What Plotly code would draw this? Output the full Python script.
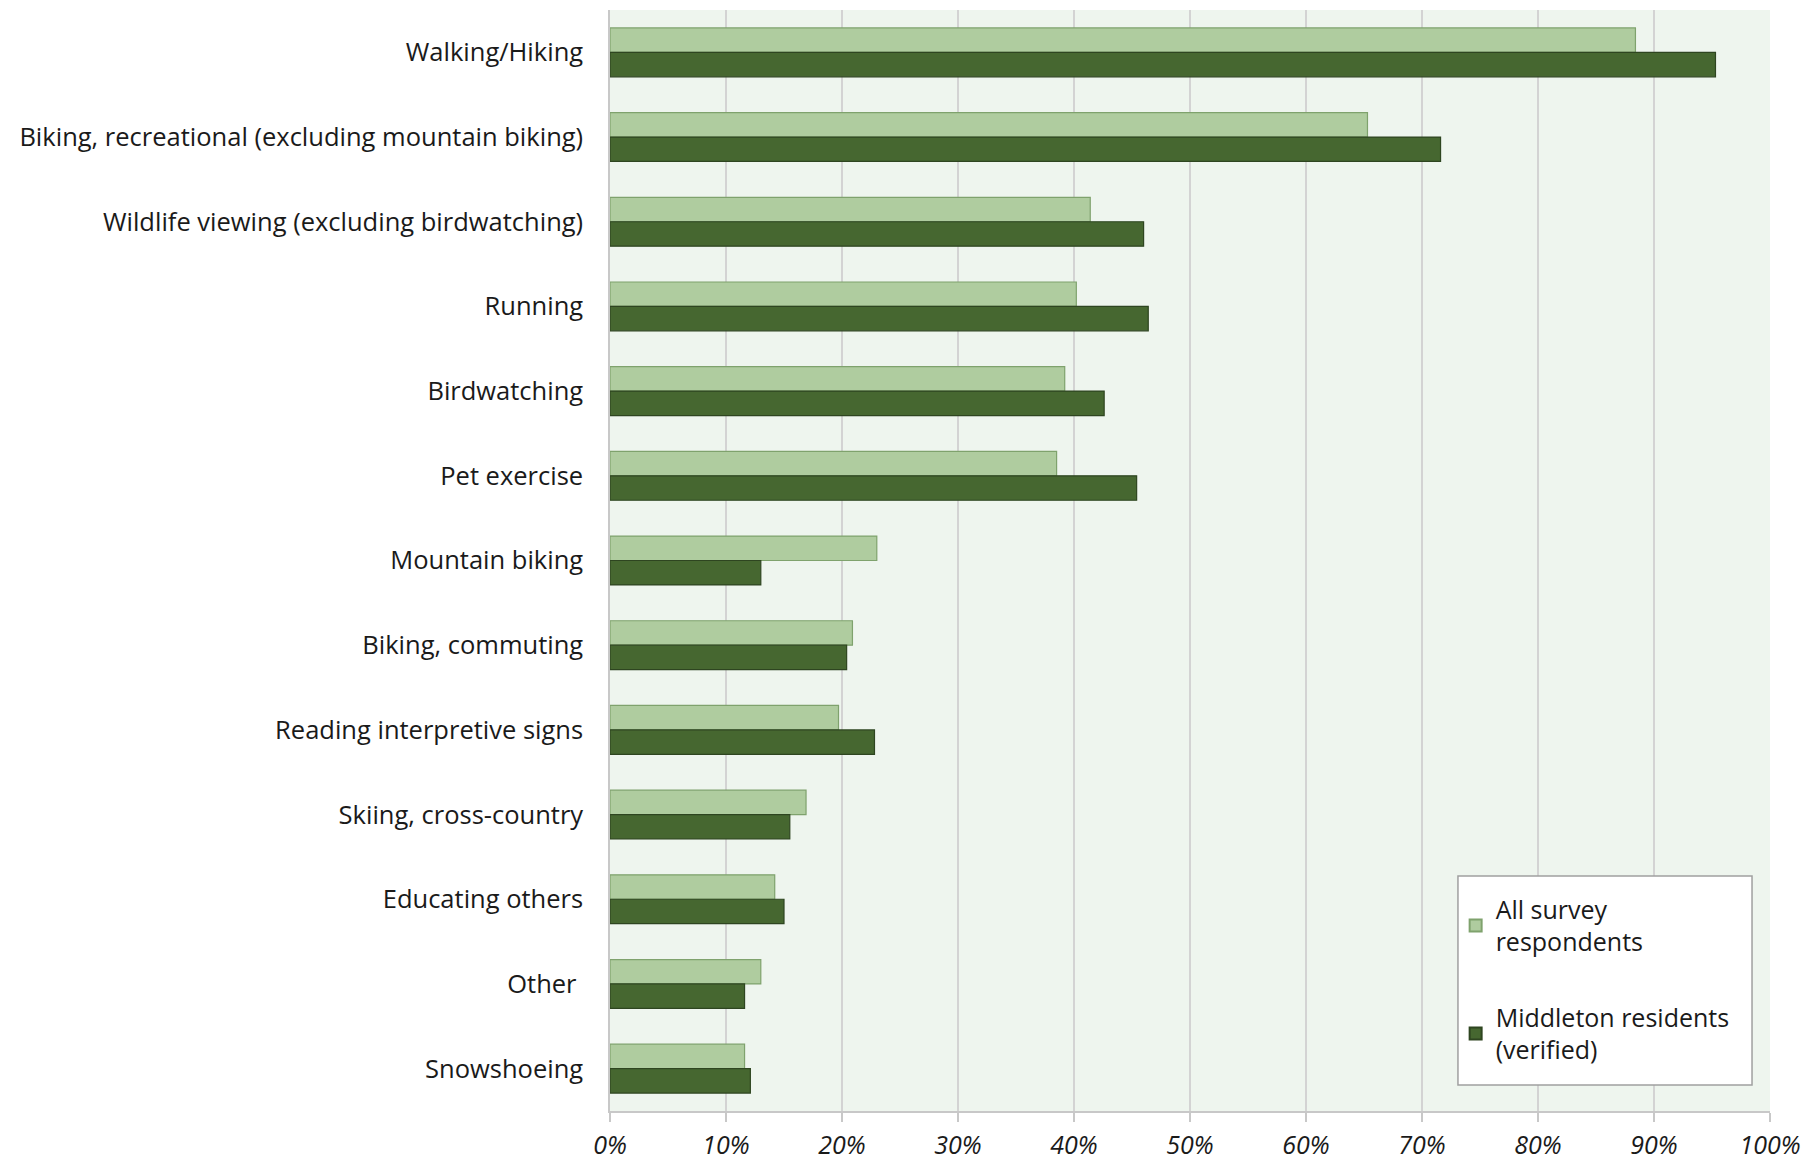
import plotly.graph_objects as go

categories = [
    "Walking/Hiking",
    "Biking, recreational (excluding mountain biking)",
    "Wildlife viewing (excluding birdwatching)",
    "Running",
    "Birdwatching",
    "Pet exercise",
    "Mountain biking",
    "Biking, commuting",
    "Reading interpretive signs",
    "Skiing, cross-country",
    "Educating others",
    "Other ",
    "Snowshoeing",
]
all_respondents = [88.4, 65.3, 41.4, 40.2, 39.2, 38.5, 23.0, 20.9, 19.7, 16.9, 14.2, 13.0, 11.6]
middleton = [95.3, 71.6, 46.0, 46.4, 42.6, 45.4, 13.0, 20.4, 22.8, 15.5, 15.0, 11.6, 12.1]
x_ticks = [0, 10, 20, 30, 40, 50, 60, 70, 80, 90, 100]
x_tick_labels = [f"{v}%" for v in x_ticks]

FONT = "Open Sans"

fig = go.Figure()
fig.add_trace(go.Bar(
    y=categories, x=all_respondents, orientation="h",
    name="All survey<br>respondents", legendgroup="a",
    marker=dict(color="#afcc9f", line=dict(color="#7fa26d", width=1.2)),
))
fig.add_trace(go.Bar(
    y=categories, x=middleton, orientation="h",
    name="Middleton residents<br>(verified)", legendgroup="b",
    marker=dict(color="#466730", line=dict(color="#2e4520", width=1.2)),
))

# legend frame
fig.add_shape(type="rect", xref="paper", yref="paper",
              x0=0.731, x1=0.9845, y0=0.0236, y1=0.2134,
              fillcolor="white", line=dict(color="#a0a0a0", width=1.5),
              layer="above")

fig.update_layout(
    width=1805, height=1152,
    margin=dict(l=602, r=43, t=2, b=49, autoexpand=False),
    paper_bgcolor="white",
    plot_bgcolor="#eef5ee",
    barmode="group",
    bargap=0.423,
    bargroupgap=0,
    font=dict(family=FONT, size=25, color="#1a1a1a"),
    showlegend=True,
    legend=dict(
        x=0.729, y=0.204, xanchor="left", yanchor="top",
        bgcolor="rgba(0,0,0,0)", borderwidth=0,
        font=dict(family=FONT, size=25, color="#1a1a1a"),
        tracegroupgap=40, itemsizing="constant",
        traceorder="grouped",
    ),
    hovermode=False,
)
fig.update_xaxes(
    range=[0, 100],
    automargin=False,
    tickvals=x_ticks, ticktext=x_tick_labels,
    tickfont=dict(family=FONT, size=25, style="italic", color="#1a1a1a"),
    showgrid=True, gridcolor="#d3d3d3", gridwidth=1.5,
    showline=True, linecolor="#c8c8c8", linewidth=1.5,
    ticks="outside", ticklen=9, tickcolor="#c8c8c8", tickwidth=1.5,
    ticklabelstandoff=2,
    zeroline=False,
)
fig.update_yaxes(
    autorange="reversed",
    automargin=False,
    showgrid=False,
    showline=True, linecolor="#c8c8c8", linewidth=1.5,
    ticks="", ticklabelstandoff=20,
    tickfont=dict(family=FONT, size=25.5, color="#1a1a1a"),
)

fig.write_html("out.html")
